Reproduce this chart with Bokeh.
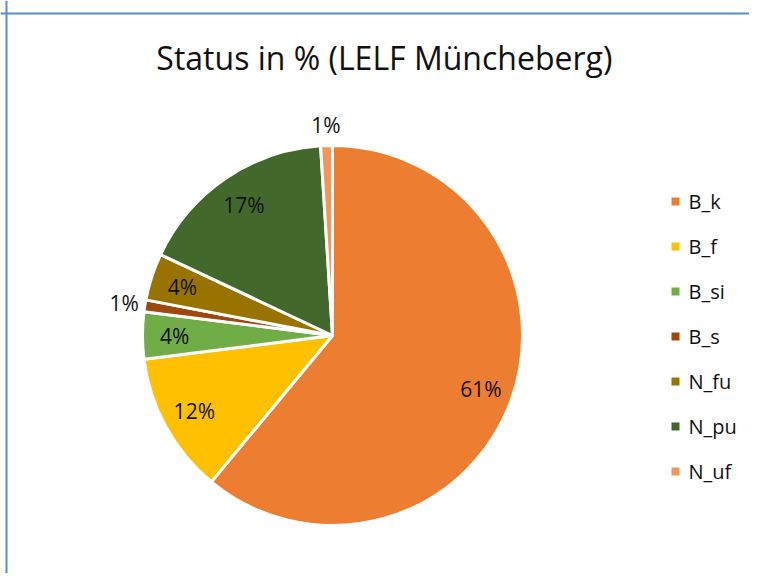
import math
from bokeh.plotting import figure
from bokeh.models import Range1d, Span, ColumnDataSource
from bokeh.core.properties import value
from bokeh.embed import file_html
from bokeh.resources import INLINE

title_text = "Status in %  (LELF Müncheberg)"
categories = ["B_k", "B_f", "B_si", "B_s", "N_fu", "N_pu", "N_uf"]
percents = [61, 12, 4, 1, 4, 17, 1]
colors = ["#ED7D31", "#FFC000", "#70AD47", "#9E480E", "#997300", "#43682B", "#F1975A"]

W, H = 749, 573
FONT = value("Open Sans")

p = figure(width=W, height=H, output_backend="svg", toolbar_location=None,
           x_range=Range1d(0, W), y_range=Range1d(0, H), min_border=0,
           background_fill_color="white", border_fill_color="white")
p.axis.visible = False
p.grid.visible = False
p.outline_line_color = None

# chart frame (left and top edges visible in the crop)
p.add_layout(Span(location=6, dimension="height", line_color="#5A8ECB", line_width=2))
p.add_layout(Span(location=560, dimension="width", line_color="#5A8ECB", line_width=2))

cx, cy, r = 332, 238, 190
total = float(sum(percents))
starts, ends, lx, ly, labels = [], [], [], [], []
cum = 0.0
for v in percents:
    f0 = cum / total
    f1 = (cum + v) / total
    starts.append(math.pi / 2 - 2 * math.pi * f0)
    ends.append(math.pi / 2 - 2 * math.pi * f1)
    mid = math.pi / 2 - 2 * math.pi * (f0 + f1) / 2
    k = 1.11 if v <= 1 else 0.83
    lx.append(cx + k * r * math.cos(mid))
    ly.append(cy + k * r * math.sin(mid))
    labels.append(f"{v}%")
    cum += v

src = ColumnDataSource(dict(start=starts, end=ends, color=colors, lx=lx, ly=ly, label=labels))
p.wedge(x=cx, y=cy, radius=r, start_angle="start", end_angle="end", direction="clock",
        fill_color="color", line_color="white", line_width=3, source=src)
p.text(x="lx", y="ly", text="label", source=src, text_font=FONT, text_font_size="21px",
       text_align="center", text_baseline="middle", text_color="#111111")

# title
p.text(x=[388], y=[516], text=[title_text], text_font=FONT, text_font_size="32px",
       text_align="center", text_baseline="alphabetic", text_color="#111111")

# legend
leg_y = [372 - 45 * i for i in range(len(categories))]
p.scatter(x=[675] * len(categories), y=leg_y, marker="square", size=8,
          fill_color=colors, line_color=None)
p.text(x=[688] * len(categories), y=leg_y, text=categories, text_font=FONT,
       text_font_size="20px", text_align="left", text_baseline="middle", text_color="#111111")

open("out.html", "w").write(file_html(p, INLINE))
